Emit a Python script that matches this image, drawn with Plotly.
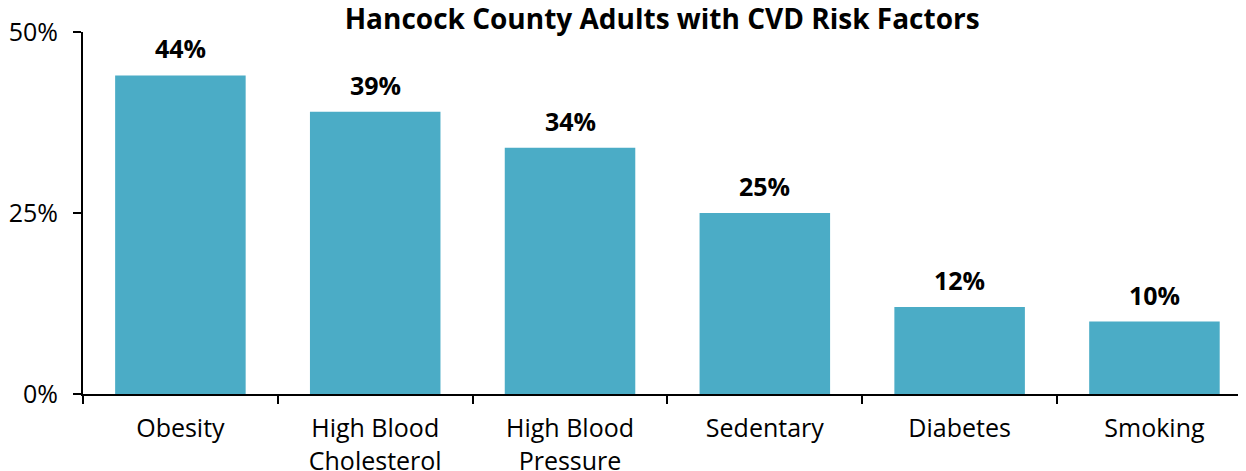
import plotly.graph_objs as go

categories = ['Obesity', 'High Blood<br>Cholesterol', 'High Blood<br>Pressure',
              'Sedentary', 'Diabetes', 'Smoking']
values = [0.44, 0.39, 0.34, 0.25, 0.12, 0.10]
labels = ['44%', '39%', '34%', '25%', '12%', '10%']

bar_color = '#4BACC6'
font_name = 'Open Sans'

fig = go.Figure()
fig.add_trace(go.Bar(x=categories, y=values, marker_color=bar_color,
                     marker_line_width=0, width=0.67))

# data labels above the bars
for cat, val, lab in zip(categories, values, labels):
    fig.add_annotation(x=cat, y=val, text='<b>' + lab + '</b>', showarrow=False,
                       yanchor='bottom', yshift=8,
                       font=dict(family=font_name, size=25, color='black'))

# page body has an 8px margin, so offsets below compensate for it
fig.update_layout(
    width=1246, height=471,
    margin=dict(l=75, r=8, t=24, b=85),
    plot_bgcolor='white', paper_bgcolor='white',
    showlegend=False,
    title=dict(text='<b>Hancock County Adults with CVD Risk Factors</b>',
               x=0.525, xanchor='center', y=0.977, yanchor='middle',
               font=dict(family=font_name, size=28, color='black')),
    font=dict(family=font_name, size=25, color='black'),
)
fig.update_xaxes(range=[-0.5, 5.47], showline=True, linecolor='black', linewidth=2,
                 ticks='outside', tickson='boundaries', ticklen=8, tickwidth=2,
                 tickcolor='black', showgrid=False, automargin=False,
                 ticklabelstandoff=11,
                 tickfont=dict(family=font_name, size=25, color='black'))
fig.update_yaxes(range=[0, 0.5], tickvals=[0, 0.25, 0.5], ticktext=['0%', '25%', '50%'],
                 showline=True, linecolor='black', linewidth=2, ticks='outside',
                 ticklen=8, tickwidth=2, tickcolor='black', showgrid=False,
                 zeroline=False, automargin=False, ticklabelstandoff=10,
                 tickfont=dict(family=font_name, size=25, color='black'))

fig.write_html("out.html")
